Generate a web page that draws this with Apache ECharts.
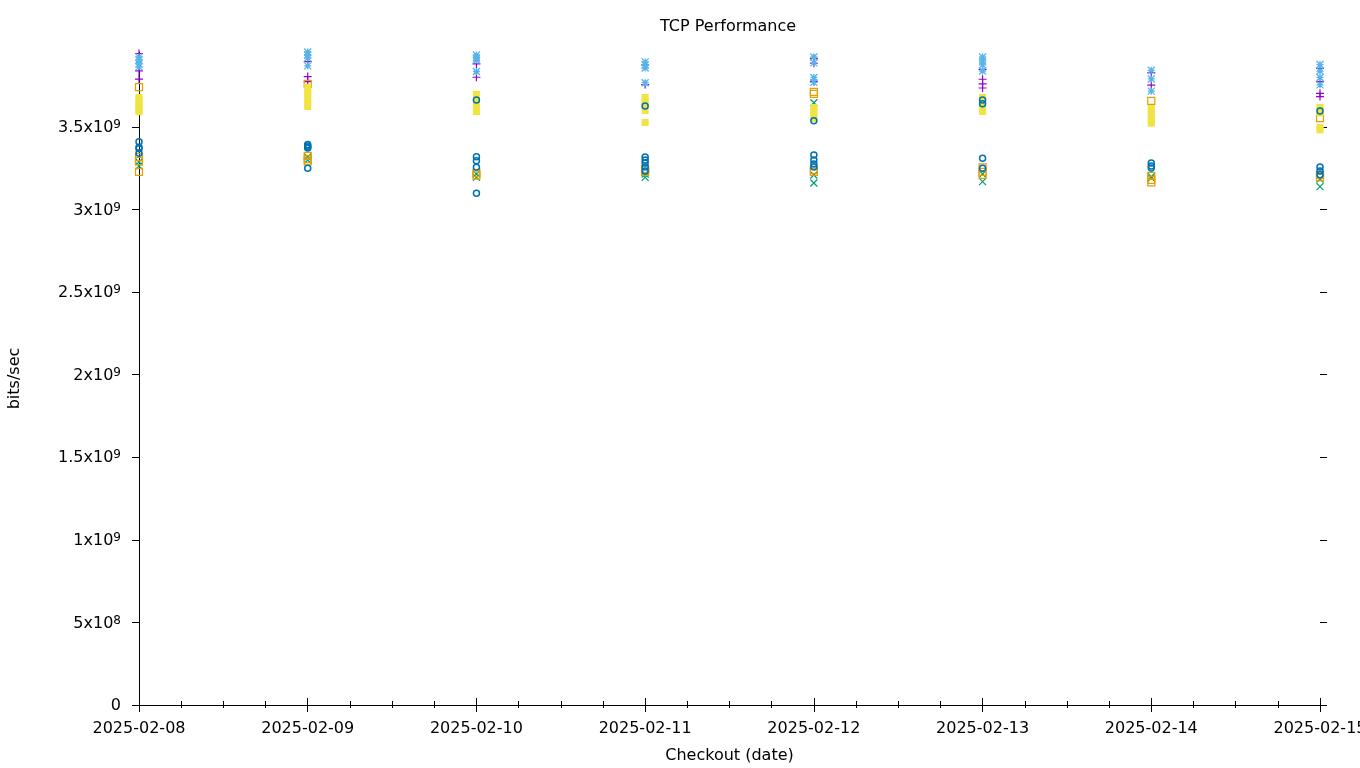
<!DOCTYPE html>
<html><head><meta charset="utf-8">
<script src="https://cdn.jsdelivr.net/npm/echarts@6/dist/echarts.min.js"></script>
<style>html,body{margin:0;padding:0;background:#fff}#c{width:1360px;height:768px}</style>
</head><body><div id="c"></div>
<script>
// x categories (tick labels) = checkout dates
const dates = ['2025-02-08','2025-02-09','2025-02-10','2025-02-11','2025-02-12','2025-02-13','2025-02-14','2025-02-15'];
// y tick values and labels (mantissa, exponent)
const yTickValues = [0, 5e8, 1e9, 1.5e9, 2e9, 2.5e9, 3e9, 3.5e9];
const yTickMant = ['0', '5x10', '1x10', '1.5x10', '2x10', '2.5x10', '3x10', '3.5x10'];
const yTickExp  = ['', '8', '9', '9', '9', '9', '9', '9'];
const yMax = 3.954e9;

// values in Gbit/s, one inner list per date
const plusVals = [
  [3.945, 3.840, 3.790],
  [3.896, 3.805, 3.775],
  [3.882, 3.801],
  [3.876, 3.757],
  [3.916, 3.886, 3.775],
  [3.849, 3.789, 3.761, 3.736],
  [3.829, 3.754],
  [3.855, 3.775, 3.704, 3.684]
];
const crossVals = [
  [3.288, 3.264],
  [3.318, 3.300],
  [3.215, 3.195],
  [3.215, 3.195],
  [3.647, 3.209, 3.161],
  [3.215, 3.169],
  [3.199, 3.190],
  [3.185, 3.139]
];
const starVals = [
  [3.924, 3.906, 3.882, 3.864],
  [3.954, 3.936, 3.918, 3.870],
  [3.936, 3.918, 3.906, 3.836],
  [3.894, 3.876, 3.857, 3.768],
  [3.924, 3.888, 3.800, 3.770],
  [3.924, 3.900, 3.876, 3.839],
  [3.843, 3.791, 3.717],
  [3.878, 3.839, 3.800, 3.755]
];
const openSquareVals = [
  [3.741, 3.318, 3.294, 3.228],
  [3.761, 3.325, 3.305, 3.292],
  [3.222, 3.205],
  [3.243, 3.228],
  [3.712, 3.700, 3.240, 3.228],
  [3.255, 3.228, 3.210],
  [3.658, 3.204, 3.180, 3.165],
  [3.553, 3.210, 3.195]
];
const filledSquareVals = [
  [3.679, 3.660, 3.640, 3.620, 3.600, 3.593],
  [3.739, 3.715, 3.690, 3.665, 3.640, 3.624],
  [3.697, 3.672, 3.648, 3.620, 3.593],
  [3.679, 3.655, 3.630, 3.600, 3.527],
  [3.618, 3.595, 3.572, 3.551],
  [3.679, 3.655, 3.630, 3.605, 3.594],
  [3.612, 3.585, 3.560, 3.535, 3.523],
  [3.618, 3.600, 3.584, 3.497, 3.483]
];
const openCircleVals = [
  [3.411, 3.378, 3.368, 3.341],
  [3.394, 3.385, 3.378, 3.372, 3.250],
  [3.664, 3.320, 3.296, 3.256, 3.099],
  [3.627, 3.318, 3.300, 3.282, 3.258, 3.234],
  [3.537, 3.331, 3.300, 3.276, 3.258],
  [3.664, 3.640, 3.310, 3.250],
  [3.282, 3.264, 3.252],
  [3.597, 3.258, 3.234, 3.210]
];

const DAY = 86400000;
const t0 = Date.parse(dates[0]);
const t1 = Date.parse(dates[dates.length - 1]);
function build(vals) {
  const out = [];
  vals.forEach((list, i) => {
    const t = Date.parse(dates[i]);
    list.forEach(v => out.push([t, v * 1e9]));
  });
  return out;
}
const FONT = 'DejaVu Sans';
const txt = { fontFamily: FONT, fontSize: 16, color: '#000' };

function scatter(name, vals, symbol, color, filled, size, bw) {
  return {
    name, type: 'scatter', data: build(vals), symbol, symbolSize: size || 7,
    silent: true,
    itemStyle: filled ? { color: color, opacity: 1 } :
      { color: 'transparent', borderColor: color, borderWidth: bw || 1, opacity: 1 }
  };
}

const chart = echarts.init(document.getElementById('c'), null, { renderer: 'canvas' });
chart.setOption({
  animation: false,
  backgroundColor: '#fff',
  title: { text: 'TCP Performance', left: 655, top: 14,
    textStyle: { fontFamily: FONT, fontSize: 16, fontWeight: 'normal', color: '#000' } },
  grid: { left: 139, right: 40, top: 52, bottom: 63, containLabel: false, outerBoundsMode: 'none' },
  xAxis: [{
    type: 'value', min: t0, max: t1, interval: DAY,
    axisLine: { show: true, onZero: false, lineStyle: { color: '#000', width: 1 } },
    axisTick: { show: true, inside: false, length: 7, lineStyle: { color: '#000' } },
    minorTick: { show: true, splitNumber: 4, length: 3, lineStyle: { color: '#000' } },
    splitLine: { show: false },
    axisLabel: Object.assign({ margin: 16, formatter: v => dates[Math.round((v - t0) / DAY)] }, txt),
    name: 'Checkout (date)', nameLocation: 'middle', nameGap: 43, nameTextStyle: txt
  }, {
    type: 'value', position: 'top', min: t0, max: t1, interval: DAY,
    axisLine: { show: false },
    axisTick: { show: true, inside: false, length: 7, lineStyle: { color: '#000' } },
    minorTick: { show: true, splitNumber: 4, length: 4, lineStyle: { color: '#000' } },
    splitLine: { show: false }, axisLabel: { show: false }
  }],
  yAxis: [{
    type: 'value', min: 0, max: yMax, interval: 5e8,
    axisLine: { show: true, onZero: false, lineStyle: { color: '#000', width: 1 } },
    axisTick: { show: true, inside: false, length: 7, customValues: yTickValues, lineStyle: { color: '#000' } },
    splitLine: { show: false },
    axisLabel: {
      margin: 18, customValues: yTickValues,
      formatter: v => {
        const i = yTickValues.indexOf(v);
        if (i < 0) return '';
        return yTickExp[i] ? '{m|' + yTickMant[i] + '}{e|' + yTickExp[i] + '}' : '{m|' + yTickMant[i] + '}';
      },
      rich: {
        m: { fontFamily: FONT, fontSize: 16, color: '#000', lineHeight: 20, padding: [2, 0, 0, 0] },
        e: { fontFamily: FONT, fontSize: 12, color: '#000', lineHeight: 12, verticalAlign: 'top', padding: [2, 0, 0, 0] }
      }
    },
    name: 'bits/sec', nameLocation: 'middle', nameGap: 116, nameRotate: 90, nameTextStyle: txt
  }, {
    type: 'value', position: 'right', min: 0, max: yMax, interval: 5e8,
    axisLine: { show: false },
    axisTick: { show: true, inside: false, length: 7, customValues: yTickValues, lineStyle: { color: '#000' } },
    splitLine: { show: false }, axisLabel: { show: false }
  }],
  series: [
    scatter('plus', plusVals, 'path://M0,5L10,5M5,0L5,10', '#9400d3', false, 8, 1.2),
    scatter('cross', crossVals, 'path://M0,0L10,10M0,10L10,0', '#009e73', false, 7, 1.2),
    scatter('star', starVals, 'path://M5,0L5,10M0,5L10,5M0,0L10,10M0,10L10,0', '#56b4e9', false, 7, 1.3),
    scatter('open square', openSquareVals, 'rect', '#e69f00', false, 7, 1.2),
    scatter('filled square', filledSquareVals, 'rect', '#f0e442', true, 7),
    scatter('open circle', openCircleVals, 'circle', '#0072b2', false, 6, 1.5)
  ]
});
</script>
</body></html>
